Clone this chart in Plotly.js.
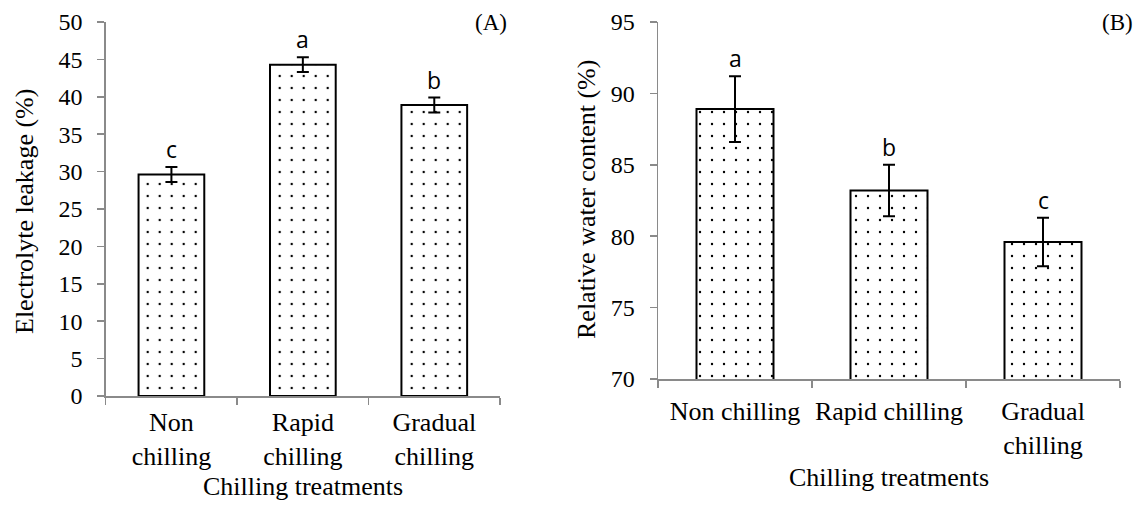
<!DOCTYPE html>
<html>
<head>
<meta charset="utf-8">
<script src="https://cdn.plot.ly/plotly-3.0.1.min.js"></script>
<style>html,body{margin:0;padding:0;background:#fff;}#chart{width:1136px;height:507px;}</style>
</head>
<body>
<div id="chart"></div>
<script>
// Panel A: Electrolyte leakage
const catsA = ["Non<br>chilling", "Rapid<br>chilling", "Gradual<br>chilling"];
const valuesA = [29.6, 44.3, 38.9];
const errorsA = [1.0, 1.0, 1.0];
const lettersA = ["c", "a", "b"];

// Panel B: Relative water content
const catsB = ["Non chilling", "Rapid chilling", "Gradual<br>chilling"];
const valuesB = [88.9, 83.2, 79.6];
const errorsB = [2.3, 1.8, 1.7];
const lettersB = ["a", "b", "c"];

const serif = "Liberation Serif, Times New Roman, serif";
const sans = "Open Sans, Noto Sans, sans-serif";
const axisGray = "#8a8a8a";

function barTrace(cats, vals, errs, xa, ya) {
  return {
    type: "bar", x: cats, y: vals, xaxis: xa, yaxis: ya,
    marker: {
      color: "white",
      line: {color: "black", width: 2},
      pattern: {shape: ".", fgcolor: "black", bgcolor: "white", size: 12, solidity: 0.03}
    },
    error_y: {type: "data", array: errs, visible: true, color: "black", thickness: 2, width: 6},
    showlegend: false, hoverinfo: "skip"
  };
}

const data = [
  barTrace(catsA, valuesA, errorsA, "x", "y"),
  barTrace(catsB, valuesB, errorsB, "x2", "y2")
];

function xAxis(domain, anchor, standoff) {
  return {
    domain: domain, anchor: anchor, type: "category",
    showline: true, linecolor: axisGray, linewidth: 1.5,
    ticks: "outside", tickson: "boundaries", ticklen: 7, tickcolor: axisGray, tickwidth: 1.5,
    tickangle: 0, ticklabelstandoff: standoff,
    tickfont: {family: serif, size: 26, color: "black"},
    showgrid: false, zeroline: false, fixedrange: true
  };
}
function yAxis(domain, anchor, range) {
  return {
    domain: domain, anchor: anchor, range: range, dtick: 5, tick0: 0,
    showline: true, linecolor: axisGray, linewidth: 1.5,
    ticks: "outside", ticklen: 7, tickcolor: axisGray, tickwidth: 1.5,
    ticklabelstandoff: 10,
    tickfont: {family: serif, size: 24, color: "black"},
    showgrid: false, zeroline: false, fixedrange: true
  };
}

const letterFont = {family: sans, size: 23, color: "black"};
const textFont = {family: serif, size: 26, color: "black"};
const annotations = [];
lettersA.forEach((t, i) => annotations.push({
  xref: "x", yref: "y", x: catsA[i], y: valuesA[i] + errorsA[i], text: t,
  showarrow: false, xanchor: "center", yanchor: "bottom", font: letterFont
}));
lettersB.forEach((t, i) => annotations.push({
  xref: "x2", yref: "y2", x: catsB[i], y: valuesB[i] + errorsB[i], text: t,
  showarrow: false, xanchor: "center", yanchor: "bottom", font: letterFont
}));
annotations.push(
  {xref: "paper", yref: "paper", x: 491/1136, y: 1 - 22/507, text: "(A)", showarrow: false,
   xanchor: "center", yanchor: "middle", font: {family: serif, size: 23, color: "black"}},
  {xref: "paper", yref: "paper", x: 1117/1136, y: 1 - 22/507, text: "(B)", showarrow: false,
   xanchor: "center", yanchor: "middle", font: {family: serif, size: 23, color: "black"}},
  {xref: "paper", yref: "paper", x: 24/1136, y: 1 - 212/507, text: "Electrolyte leakage (%)",
   textangle: -90, showarrow: false, xanchor: "center", yanchor: "middle", font: textFont},
  {xref: "paper", yref: "paper", x: 586/1136, y: 1 - 200/507, text: "Relative water content (%)",
   textangle: -90, showarrow: false, xanchor: "center", yanchor: "middle", font: textFont},
  {xref: "paper", yref: "paper", x: 303/1136, y: 1 - 486/507, text: "Chilling treatments",
   showarrow: false, xanchor: "center", yanchor: "middle", font: textFont},
  {xref: "paper", yref: "paper", x: 889/1136, y: 1 - 477/507, text: "Chilling treatments",
   showarrow: false, xanchor: "center", yanchor: "middle", font: textFont}
);

const layout = {
  width: 1136, height: 507,
  margin: {l: 0, r: 0, t: 0, b: 0},
  paper_bgcolor: "white", plot_bgcolor: "white",
  bargap: 0.5,
  xaxis: xAxis([105.7/1136, 500/1136], "y", 2),
  yaxis: yAxis([(507-396)/507, (507-22)/507], "x", [0, 50]),
  xaxis2: xAxis([658/1136, 1120/1136], "y2", 8),
  yaxis2: yAxis([(507-379)/507, (507-22)/507], "x2", [70, 95]),
  annotations: annotations,
  showlegend: false
};

Plotly.newPlot("chart", data, layout, {displayModeBar: false, staticPlot: true});
</script>
</body>
</html>
